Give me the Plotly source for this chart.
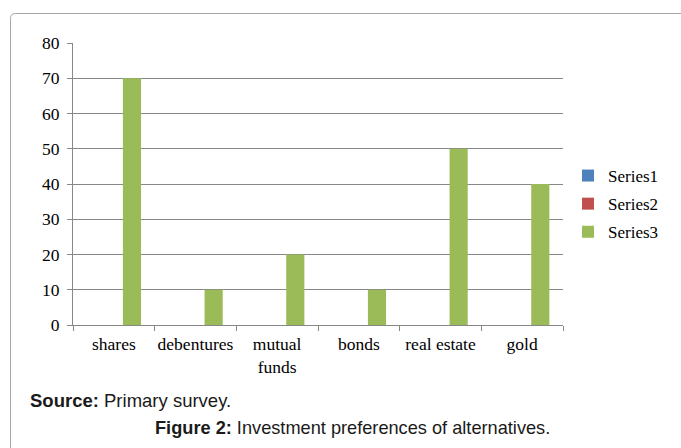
import plotly.graph_objects as go

categories = ["shares", "debentures", "mutual<br>funds", "bonds", "real estate", "gold"]
series1 = [None, None, None, None, None, None]
series2 = [None, None, None, None, None, None]
series3 = [70, 10, 20, 10, 50, 40]
y_ticks = [0, 10, 20, 30, 40, 50, 60, 70, 80]

colors = ["#4F81BD", "#C0504D", "#9BBB59"]
names = ["Series1", "Series2", "Series3"]

W, H = 681, 448
L, R, T, B = 73, 118, 43, 123
pw, ph = W - L - R, H - T - B

def px_x(x):
    return (x - L) / pw

def px_y(y):
    return (H - B - y) / ph

fig = go.Figure()
for name, vals, col in zip(names, [series1, series2, series3], colors):
    fig.add_trace(go.Bar(x=categories, y=vals, name=name, marker_color=col,
                         marker_line_width=0, legendgroup=name))

grid_col = "#878787"
fig.update_layout(
    width=W, height=H,
    margin=dict(l=L, r=R, t=T, b=B, pad=0),
    paper_bgcolor="white", plot_bgcolor="white",
    barmode="group", bargap=1.5 / 4.5, bargroupgap=0,
    font=dict(family="Liberation Serif", size=17, color="#000000"),
    showlegend=True,
    legend=dict(x=px_x(568), y=px_y(158), xanchor="left", yanchor="top",
                font=dict(family="Liberation Serif", size=17),
                tracegroupgap=3, traceorder="grouped", bgcolor="rgba(0,0,0,0)"),
    xaxis=dict(type="category", showline=True, linecolor=grid_col, linewidth=1,
               ticks="outside", tickson="boundaries", ticklen=5, tickcolor=grid_col,
               showgrid=False, tickfont=dict(size=17.5), tickangle=0,
               ticklabelstandoff=3),
    yaxis=dict(range=[0, 80], tickvals=y_ticks, showline=True, linecolor=grid_col,
               linewidth=1, ticks="outside", ticklen=5, tickcolor=grid_col,
               showgrid=True, gridcolor=grid_col, gridwidth=1, zeroline=False,
               tickfont=dict(size=17.5), ticklabelstandoff=4),
)

# outer frame with rounded top-left corner (in paper coordinates)
x0, y0 = px_x(10.5), px_y(13.5)
x1, y1 = px_x(700), px_y(470)
rx, ry = 5 / pw, 5 / ph
path = (f"M {x0},{y1} L {x0},{y0 - ry} Q {x0},{y0} {x0 + rx},{y0} "
        f"L {x1},{y0}")
fig.add_shape(type="path", xref="paper", yref="paper", path=path,
              line=dict(color="#a6a6a6", width=1))

fig.add_annotation(x=px_x(28), y=px_y(400), xref="paper", yref="paper",
                   xanchor="left", yanchor="middle", showarrow=False,
                   text="<b>Source:</b> Primary survey.",
                   font=dict(family="Liberation Sans", size=18.5, color="#1a1a1a"))
fig.add_annotation(x=px_x(352), y=px_y(428), xref="paper", yref="paper",
                   xanchor="center", yanchor="middle", showarrow=False,
                   text="<b>Figure 2:</b> Investment preferences of alternatives.",
                   font=dict(family="Liberation Sans", size=18.2, color="#1a1a1a"))

fig.write_html("out.html")
